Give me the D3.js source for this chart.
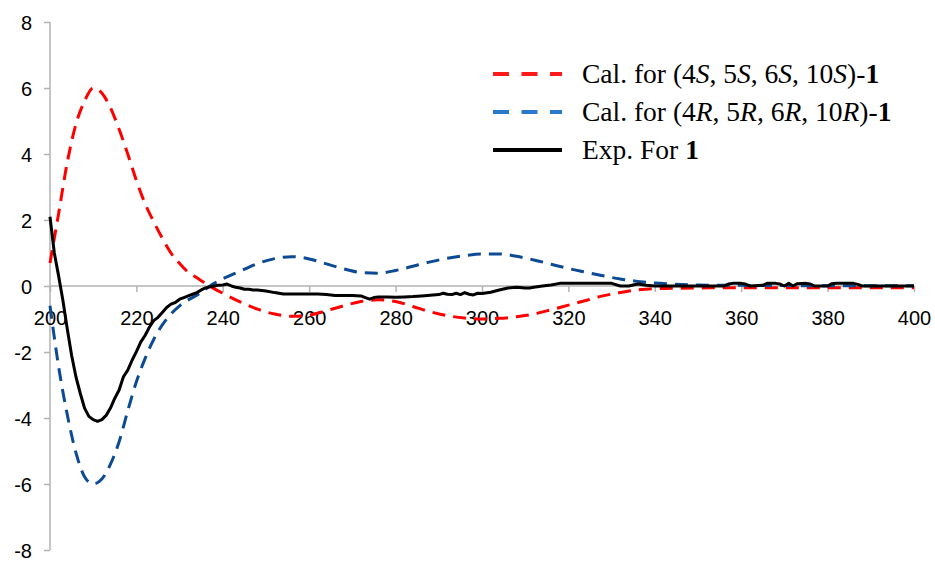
<!DOCTYPE html>
<html>
<head>
<meta charset="utf-8">
<script src="https://cdn.jsdelivr.net/npm/d3@7"></script>
<style>
  html, body { margin: 0; padding: 0; background: #fff; }
  svg { display: block; }
</style>
</head>
<body>
<svg id="chart" width="935" height="562"></svg>
<script>
// ---------- data ----------
const calWavelengths = [200,202,204,206,208,210,212,214,216,218,220,222,224,226,228,230,232,234,236,238,240,244,248,252,256,260,264,268,272,276,280,284,288,292,296,300,304,308,312,316,320,324,328,332,336,340,344,350,360,380,400];
const calS = [0.7,2.2,3.75,4.9,5.6,6.0,5.85,5.4,4.75,4.0,3.2,2.5,1.95,1.45,1.0,0.68,0.42,0.25,0.08,-0.08,-0.22,-0.48,-0.7,-0.85,-0.92,-0.88,-0.75,-0.6,-0.47,-0.42,-0.47,-0.62,-0.78,-0.9,-0.97,-1.0,-0.98,-0.93,-0.85,-0.72,-0.58,-0.44,-0.3,-0.2,-0.12,-0.08,-0.07,-0.06,-0.05,-0.05,-0.05];
const calR = [-0.6,-2.45,-3.9,-5.05,-5.78,-6.0,-5.85,-5.4,-4.72,-3.78,-2.9,-2.2,-1.62,-1.18,-0.85,-0.6,-0.42,-0.28,-0.1,0.08,0.22,0.45,0.68,0.83,0.89,0.82,0.67,0.52,0.41,0.39,0.47,0.6,0.73,0.84,0.92,0.97,0.97,0.9,0.79,0.66,0.53,0.42,0.31,0.21,0.14,0.09,0.06,0.03,0.02,0.01,0.01];

const expWavelengths = [200,201,202,203,204,205,206,207,208,209,210,211,212,213,214,215,216,217,218,219,220,221,222,223,224,225,226,227,228,229,230,231,232,233,234,235,236,237,238,239,240,241,242,243,244,245,246,247,248,250,252,254,256,258,260,262,264,266,268,270,272,273,274,275,276,278,280,282,284,286,288,290,291,292,293,294,295,296,297,298,299,300,302,304,306,308,310,311,312,314,316,318,320,324,328,330,332,334,336,338,340,344,350,356,357,358,360,361,362,365,366,368,369,370,371,372,373,375,376,377,380,381,382,386,387,388,400];
const expValues = [2.1,1.0,0.3,-0.45,-1.3,-2.1,-2.75,-3.25,-3.7,-3.95,-4.05,-4.1,-4.05,-3.92,-3.7,-3.4,-3.15,-2.75,-2.55,-2.25,-1.99,-1.7,-1.5,-1.25,-1.05,-0.95,-0.8,-0.65,-0.55,-0.5,-0.4,-0.35,-0.3,-0.25,-0.2,-0.12,-0.06,-0.02,0.0,0.02,0.03,0.06,0.0,-0.04,-0.06,-0.1,-0.1,-0.12,-0.12,-0.15,-0.2,-0.24,-0.24,-0.24,-0.24,-0.24,-0.26,-0.29,-0.29,-0.29,-0.3,-0.35,-0.4,-0.35,-0.33,-0.33,-0.34,-0.33,-0.32,-0.3,-0.28,-0.26,-0.22,-0.25,-0.26,-0.22,-0.26,-0.2,-0.25,-0.27,-0.22,-0.23,-0.19,-0.12,-0.06,-0.04,-0.06,-0.06,-0.04,0.0,0.03,0.08,0.08,0.08,0.08,0.08,0.0,0.0,0.06,0.02,0.0,0.0,0.0,0.0,0.06,0.08,0.08,0.06,0.0,0.02,0.08,0.08,0.06,0.0,0.08,0.0,0.07,0.08,0.06,0.0,0.0,0.07,0.08,0.08,0.05,0.0,0.0];

const xTicks = [200,220,240,260,280,300,320,340,360,380,400];
const yTicks = [-8,-6,-4,-2,0,2,4,6,8];

const legendItems = [
  { key: "S", label: ["Cal. for (4", {i:"S"}, ", 5", {i:"S"}, ", 6", {i:"S"}, ", 10", {i:"S"}, ")-", {b:"1"}] },
  { key: "R", label: ["Cal. for (4", {i:"R"}, ", 5", {i:"R"}, ", 6", {i:"R"}, ", 10", {i:"R"}, ")-", {b:"1"}] },
  { key: "E", label: ["Exp. For ", {b:"1"}] }
];

// ---------- styles ----------
const colors = { S: "#ff0000", R: "#0d4a94", E: "#000000" };
const legendColors = { S: "#ff1a1a", R: "#2a78cc", E: "#000000" };

const svg = d3.select("#chart");
const x = d3.scaleLinear().domain([200, 400]).range([50, 914]);
const y = d3.scaleLinear().domain([-8, 8]).range([550, 22]);

// axes
const axisColor = "#b3b3b3";
const fmt = d => String(d);
const yAxis = svg.append("g").attr("transform", `translate(${x(200)},0)`)
  .call(d3.axisLeft(y).tickValues(yTicks).tickSize(6).tickFormat(fmt));
const xAxis = svg.append("g").attr("transform", `translate(0,${y(0)})`)
  .call(d3.axisBottom(x).tickValues(xTicks).tickSize(6).tickFormat(fmt));

[yAxis, xAxis].forEach(g => {
  g.selectAll("path.domain").attr("stroke", axisColor).attr("stroke-width", 1.5);
  g.selectAll(".tick line").attr("stroke", axisColor).attr("stroke-width", 1.5);
  g.selectAll("text").attr("fill", "#000").style("font-family", "Liberation Sans, Arial, sans-serif").style("font-size", "20px");
});
yAxis.selectAll(".tick text").attr("x", -18).attr("dy", "0.35em");
xAxis.selectAll(".tick text").attr("y", 39).attr("dy", "0");
xAxis.select("path.domain").attr("d", `M${x(200)},0H${x(400)}`);
yAxis.select("path.domain").attr("d", `M0,${y(8)}V${y(-8)}`);

// lines
const smooth = d3.line().x(d => x(d[0])).y(d => y(d[1])).curve(d3.curveMonotoneX);
const straight = d3.line().x(d => x(d[0])).y(d => y(d[1]));

const sData = calWavelengths.map((w, i) => [w, calS[i]]);
const rData = calWavelengths.map((w, i) => [w, calR[i]]);
const eData = expWavelengths.map((w, i) => [w, expValues[i]]);

svg.append("path").datum(sData).attr("d", smooth)
  .attr("fill", "none").attr("stroke", colors.S).attr("stroke-width", 3).attr("stroke-dasharray", "13,8");
svg.append("path").datum(rData).attr("d", smooth)
  .attr("fill", "none").attr("stroke", colors.R).attr("stroke-width", 3).attr("stroke-dasharray", "13,8");
svg.append("path").datum(eData).attr("d", straight)
  .attr("fill", "none").attr("stroke", colors.E).attr("stroke-width", 3).attr("stroke-linejoin", "round");

// legend
const legend = svg.append("g");
const rowY = [74, 112, 150];
legendItems.forEach((item, i) => {
  const g = legend.append("g").attr("transform", `translate(0,${rowY[i]})`);
  g.append("line").attr("x1", 493).attr("x2", 562).attr("y1", 0).attr("y2", 0)
    .attr("stroke", legendColors[item.key]).attr("stroke-width", 4)
    .attr("stroke-dasharray", item.key === "E" ? null : "16,12.5");
  const t = g.append("text").attr("x", 582).attr("y", 0).attr("dy", "0.33em")
    .style("font-family", "Liberation Serif, Times New Roman, serif").style("font-size", "27.5px").attr("fill", "#000");
  item.label.forEach(part => {
    if (typeof part === "string") t.append("tspan").text(part);
    else if (part.i) t.append("tspan").style("font-style", "italic").text(part.i);
    else if (part.b) t.append("tspan").style("font-weight", "bold").text(part.b);
  });
});
</script>
</body>
</html>
